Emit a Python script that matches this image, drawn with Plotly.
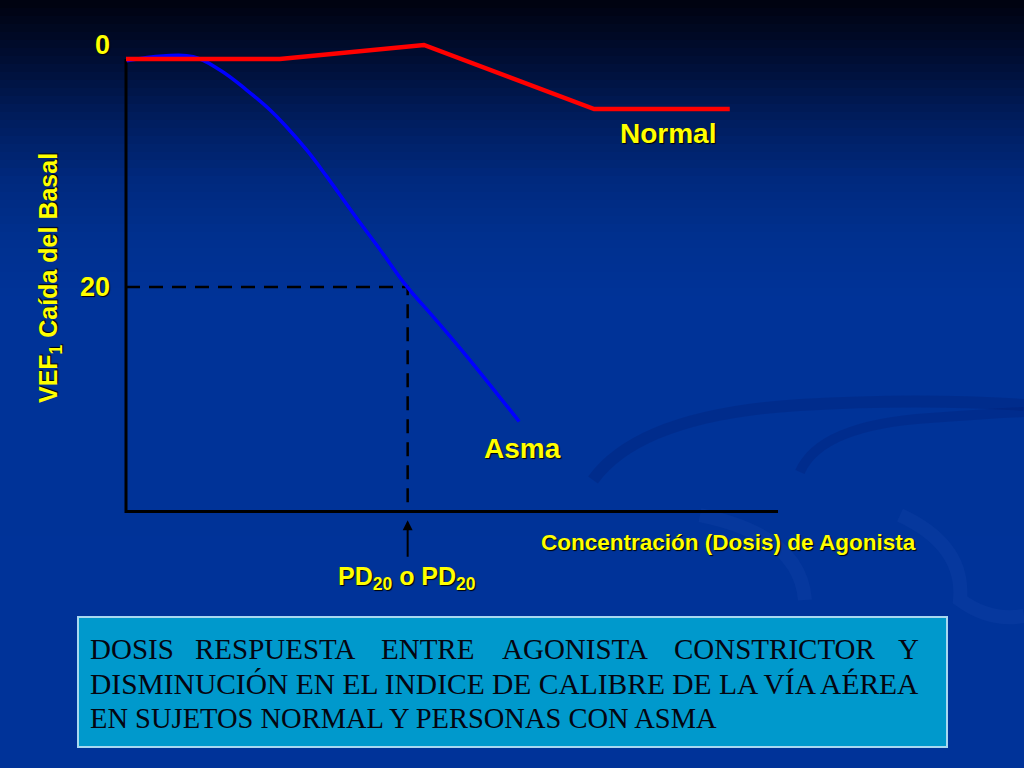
import plotly.graph_objects as go

# ---------------- data ----------------
dose_normal = [0.0, 2.36, 4.57, 7.18, 9.26]
fall_normal = [0.0, 0.0, -1.23, 4.39, 4.39]

dose_asma = [0.01, 0.57, 1.03, 1.44, 1.85, 2.21, 2.46, 2.77, 3.08, 3.48, 3.90, 4.31, 4.71, 5.23, 6.03]
fall_asma = [0.15, -0.26, -0.2, 0.96, 2.72, 4.47, 5.94, 7.98, 10.32, 13.51, 16.75, 19.97, 22.6, 26.1, 31.8]

pd20_dose = 4.32
pd20_fall = 20
y_ticks = [0, 20]
y_tick_labels = ["0", "20"]
axis_x_max = 10.0
axis_y_max = 39.7

W, H = 1024, 768
X0_PX, X_PER = 126, 65.2
Y0_PX, Y_PER = 59, 11.4
x_range = [(0 - X0_PX) / X_PER, (W - X0_PX) / X_PER]
y_range = [(H - Y0_PX) / Y_PER, (0 - Y0_PX) / Y_PER]

YEL = "#ffff00"
SHADOW = "1px 1px 1px #000000"

fig = go.Figure()

# ---------- background gradient ----------
stops = [(0, (0, 2, 14)), (60, (0, 14, 52)), (120, (0, 29, 94)), (180, (0, 41, 126)),
         (240, (0, 48, 143)), (300, (0, 51, 152)), (768, (0, 51, 153))]

def col_at(py):
    for (y1, c1), (y2, c2) in zip(stops[:-1], stops[1:]):
        if y1 <= py <= y2:
            t = (py - y1) / (y2 - y1) if y2 > y1 else 0
            return "rgb(%d,%d,%d)" % tuple(round(a + (b - a) * t) for a, b in zip(c1, c2))
    return "rgb(0,51,153)"

shapes = []
band = 8
for py in range(0, H, band):
    shapes.append(dict(type="rect", xref="paper", yref="paper", layer="below",
                       x0=0, x1=1, y0=1 - (py + band + 1) / H, y1=1 - py / H,
                       fillcolor=col_at(py + band / 2), line=dict(width=0)))

def P(px, py):
    return "%.4f,%.4f" % (px / W, 1 - py / H)

swirls = [
    ("M " + P(593, 480) + " Q " + P(640, 415) + " " + P(800, 405) + " Q " + P(920, 398) + " " + P(1024, 405),
     "rgba(0,22,100,0.22)", 12),
    ("M " + P(800, 472) + " Q " + P(820, 425) + " " + P(930, 418) + " Q " + P(985, 414) + " " + P(1024, 412),
     "rgba(0,22,100,0.20)", 10),
    ("M " + P(700, 515) + " Q " + P(800, 535) + " " + P(805, 600),
     "rgba(90,130,230,0.07)", 14),
    ("M " + P(900, 515) + " Q " + P(965, 545) + " " + P(960, 600) + " Q " + P(990, 622) + " " + P(1024, 616),
     "rgba(90,130,230,0.07)", 14),
]
for d, c, w in swirls:
    shapes.append(dict(type="path", xref="paper", yref="paper", layer="below",
                       path=d, line=dict(color=c, width=w)))

# text box
shapes.append(dict(type="rect", xref="paper", yref="paper", layer="below",
                   x0=78 / W, x1=947 / W, y0=1 - 747 / H, y1=1 - 617 / H,
                   fillcolor="#0099cc", line=dict(color="#a8d8f0", width=2)))

# ---------- axes (drawn as lines) ----------
fig.add_trace(go.Scatter(x=[0, 0, axis_x_max], y=[0, axis_y_max, axis_y_max], mode="lines",
                         line=dict(color="#000000", width=3), hoverinfo="skip", showlegend=False))

fig.add_trace(go.Scatter(x=[0, pd20_dose, pd20_dose], y=[pd20_fall, pd20_fall, axis_y_max],
                         mode="lines", line=dict(color="#000000", width=2.5, dash="14px,9px"),
                         hoverinfo="skip", showlegend=False))

fig.add_trace(go.Scatter(x=dose_asma, y=fall_asma, mode="lines", name="Asma",
                         line=dict(color="#0000ff", width=3.5, shape="spline", smoothing=1.2),
                         showlegend=False))
fig.add_trace(go.Scatter(x=dose_normal, y=fall_normal, mode="lines", name="Normal",
                         line=dict(color="#ff0000", width=4.5), showlegend=False))

ann = []
for v, t in zip(y_ticks, y_tick_labels):
    ann.append(dict(x=0, y=v, xref="x", yref="y", text="<b>%s</b>" % t, showarrow=False,
                    xanchor="right", yanchor="middle", xshift=-14, yshift=(14 if v == 0 else 0),
                    font=dict(family="Liberation Sans", size=27, color=YEL, shadow=SHADOW)))

ann.append(dict(x=pd20_dose, y=axis_y_max + 0.75, xref="x", yref="y", text="", showarrow=True,
                ax=0, ay=38, arrowhead=2, arrowsize=1, arrowwidth=2, arrowcolor="#000000"))

def txt(px, py, text, size, family="Liberation Sans", color=YEL, xanchor="center", shadow=SHADOW, angle=0):
    return dict(x=px / W, y=1 - py / H, xref="paper", yref="paper", text=text, showarrow=False,
                xanchor=xanchor, yanchor="middle", textangle=angle,
                font=dict(family=family, size=size, color=color, shadow=shadow))

ann.append(txt(668, 133, "<b>Normal</b>", 28))
ann.append(txt(522, 448, "<b>Asma</b>", 28))
ann.append(txt(728, 542, "<b>Concentración (Dosis) de Agonista</b>", 22.5))
ann.append(txt(407, 578, "<b>PD<sub>20</sub> o PD<sub>20</sub></b>", 25))
ann.append(txt(50, 278, "<b>VEF<sub>1</sub> Caída del Basal</b>", 25, angle=-90))

# box text (first line justified word by word)
line1_words = ["DOSIS", "RESPUESTA", "ENTRE", "AGONISTA", "CONSTRICTOR", "Y"]
line1_x = [88, 275, 427, 575, 775, 921]
line1_anchor = ["left", "center", "center", "center", "center", "right"]
for wd, px, an in zip(line1_words, line1_x, line1_anchor):
    ann.append(txt(px, 649, wd, 29, family="Liberation Serif", color="#050510",
                   xanchor=an, shadow="none"))
ann.append(txt(88, 684, "DISMINUCIÓN EN EL INDICE DE CALIBRE DE LA VÍA AÉREA", 29.5,
               family="Liberation Serif", color="#050510", xanchor="left", shadow="none"))
ann.append(txt(88, 718, "EN SUJETOS NORMAL Y PERSONAS CON ASMA", 28.5,
               family="Liberation Serif", color="#050510", xanchor="left", shadow="none"))

fig.update_layout(
    width=W, height=H, margin=dict(l=0, r=0, t=0, b=0),
    paper_bgcolor="#003399", plot_bgcolor="rgba(0,0,0,0)",
    xaxis=dict(range=x_range, visible=False, fixedrange=True),
    yaxis=dict(range=y_range, visible=False, fixedrange=True),
    shapes=shapes, annotations=ann, showlegend=False,
)

fig.write_html("out.html", config={"displayModeBar": False},
               post_script="document.body.style.margin='0px';document.body.style.overflow='hidden';")
